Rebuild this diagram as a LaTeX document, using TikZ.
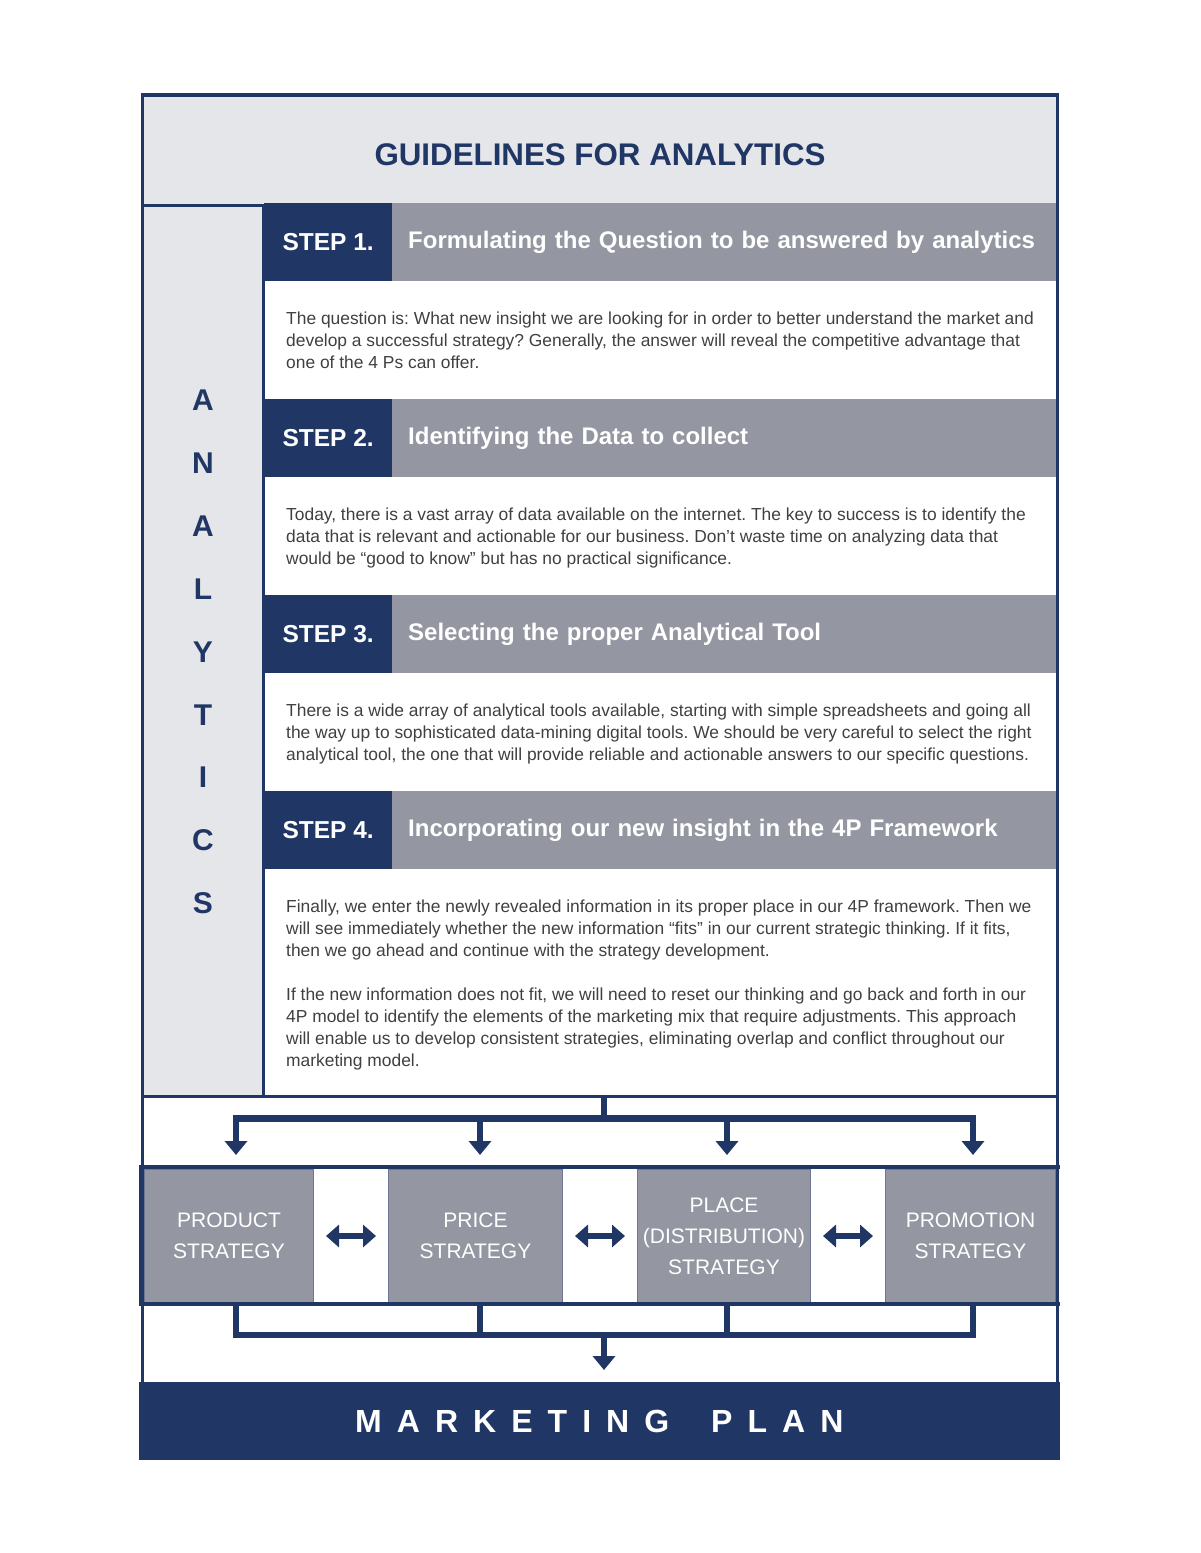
\documentclass[tikz,border=0pt]{standalone}
\usepackage{fontspec}
\setmainfont{Liberation Sans}
\usetikzlibrary{arrows.meta}
\definecolor{navy}{RGB}{32,54,100}
\definecolor{hdrgray}{RGB}{148,151,161}
\definecolor{lightbg}{RGB}{229,230,234}
\definecolor{bodygray}{RGB}{64,64,64}
\definecolor{boxedge}{RGB}{110,118,145}
\frenchspacing
\tikzset{
  framel/.style={draw=navy, line width=3.5pt},
  stepnum/.style={fill=navy, text=white, font=\fontsize{24.5}{28}\selectfont\bfseries,
    minimum width=128pt, minimum height=78pt, inner sep=0pt, anchor=north west},
  steptitle/.style={fill=hdrgray, text=white, font=\fontsize{24}{28}\selectfont\bfseries,
    minimum width=664pt, minimum height=78pt, text width=632pt, inner xsep=16pt,
    inner ysep=0pt, align=left, anchor=north west},
  bodytxt/.style={text=bodygray, font=\fontsize{17.4}{22}\selectfont\frenchspacing, align=left,
    inner sep=0pt, anchor=north west},
  vletter/.style={text=navy, font=\fontsize{30}{30}\selectfont\bfseries, inner sep=0pt},
  stratbox/.style={fill=hdrgray, draw=boxedge, line width=1pt, text=white,
    font=\fontsize{21}{31}\selectfont, align=center, inner sep=0pt,
    minimum height=133pt, anchor=north west},
  conn/.style={draw=navy, line width=6.5pt},
  tipdown/.style={-{Triangle[width=22pt,length=14pt]}},
  dbl/.style={draw=navy, line width=6pt,
    {Triangle[width=22pt,length=13pt]}-{Triangle[width=22pt,length=13pt]},
    shorten <=12pt, shorten >=12pt},
}
\begin{document}
\begin{tikzpicture}[x=1pt,y=-1pt]
\useasboundingbox (0,0) rectangle (1200,1553);
\fill[white] (0,0) rectangle (1200,1553);
% header band and left column
\fill[lightbg] (142,95) rectangle (1058,205);
\fill[lightbg] (142,205) rectangle (264,1096);
\node[text=navy, font=\fontsize{31.3}{31}\selectfont\bfseries] (title) at (600,155) {GUIDELINES FOR ANALYTICS};
% vertical word
\node[vletter] (la1) at (203,400) {A};
\node[vletter] (la2) at (203,463) {N};
\node[vletter] (la3) at (203,526) {A};
\node[vletter] (la4) at (203,589) {L};
\node[vletter] (la5) at (203,652) {Y};
\node[vletter] (la6) at (203,715) {T};
\node[vletter] (la7) at (203,777) {I};
\node[vletter] (la8) at (203,840) {C};
\node[vletter] (la9) at (203,903) {S};
% steps
\node[stepnum] (s1n) at (264,203) {STEP 1.};
\node[steptitle] (s1t) at (392,203) {Formulating the Question to be answered by analytics};
\node[bodytxt] (s1b) at (286,312) {The question is: What new insight we are looking for in order to better understand the market and\\
develop a successful strategy? Generally, the answer will reveal the competitive advantage that\\
one of the 4 Ps can offer.};
\node[stepnum] (s2n) at (264,399) {STEP 2.};
\node[steptitle] (s2t) at (392,399) {Identifying the Data to collect};
\node[bodytxt] (s2b) at (286,508) {Today, there is a vast array of data available on the internet. The key to success is to identify the\\
data that is relevant and actionable for our business. Don’t waste time on analyzing data that\\
would be “good to know” but has no practical significance.};
\node[stepnum] (s3n) at (264,595) {STEP 3.};
\node[steptitle] (s3t) at (392,595) {Selecting the proper Analytical Tool};
\node[bodytxt] (s3b) at (286,704) {There is a wide array of analytical tools available, starting with simple spreadsheets and going all\\
the way up to sophisticated data-mining digital tools. We should be very careful to select the right\\
analytical tool, the one that will provide reliable and actionable answers to our specific questions.};
\node[stepnum] (s4n) at (264,791) {STEP 4.};
\node[steptitle] (s4t) at (392,791) {Incorporating our new insight in the 4P Framework};
\node[bodytxt] (s4b) at (286,900) {Finally, we enter the newly revealed information in its proper place in our 4P framework. Then we\\
will see immediately whether the new information “fits” in our current strategic thinking. If it fits,\\
then we go ahead and continue with the strategy development.\\[21.5pt]
If the new information does not fit, we will need to reset our thinking and go back and forth in our\\
4P model to identify the elements of the marketing mix that require adjustments. This approach\\
will enable us to develop consistent strategies, eliminating overlap and conflict throughout our\\
marketing model.};
% strategy boxes
\node[stratbox, minimum width=169pt] (product) at (144,1169) {PRODUCT\\STRATEGY};
\node[stratbox, minimum width=174pt] (price) at (388,1169) {PRICE\\STRATEGY};
\node[stratbox, minimum width=173pt] (place) at (637,1169) {PLACE\\(DISTRIBUTION)\\STRATEGY};
\node[stratbox, minimum width=170pt] (promo) at (885,1169) {PROMOTION\\STRATEGY};
\draw[dbl] (product) -- (price);
\draw[dbl] (price) -- (place);
\draw[dbl] (place) -- (promo);
% marketing plan
\node[fill=navy, minimum width=921pt, minimum height=78pt, inner sep=0pt] (mplan) at (599.5,1421) {};
\node[anchor=west, inner sep=0pt, text=white,
  font=\fontsize{32}{32}\selectfont\bfseries\addfontfeatures{LetterSpace=47}] (mptext) at (355,1421)
  {MARKETING\hspace{18pt} PLAN};
% frame lines
\draw[framel] (141,95) -- (1059,95);
\draw[framel] (142.5,93.5) -- (142.5,1383);
\draw[framel] (1057.5,93.5) -- (1057.5,1383);
\draw[draw=navy, line width=3pt] (142,205) -- (265,205);
\draw[draw=navy, line width=3pt] (263.5,205) -- (263.5,1096);
\draw[draw=navy, line width=3pt] (141,1096.5) -- (1059,1096.5);
\draw[draw=navy, line width=4pt] (139,1167) -- (1059.5,1167);
\draw[draw=navy, line width=4pt] (139,1304) -- (1059.5,1304);
\fill[navy] (139,1165) rectangle (144,1306);
% top connector
\coordinate (hubtop) at (604,1096);
\coordinate (hubbar) at (604,1118.5);
\coordinate (b1) at (236,1118.5);
\coordinate (b2) at (480,1118.5);
\coordinate (b3) at (727,1118.5);
\coordinate (b4) at (973,1118.5);
\coordinate (t1) at (236,1155);
\coordinate (t2) at (480,1155);
\coordinate (t3) at (727,1155);
\coordinate (t4) at (973,1155);
\draw[conn] (hubtop) -- (hubbar);
\draw[conn, line cap=rect] (b1) -- (b4);
\draw[conn, tipdown] (b1) -- (t1);
\draw[conn, tipdown] (b2) -- (t2);
\draw[conn, tipdown] (b3) -- (t3);
\draw[conn, tipdown] (b4) -- (t4);
% bottom connector
\coordinate (c1) at (236,1335);
\coordinate (c2) at (480,1335);
\coordinate (c3) at (727,1335);
\coordinate (c4) at (973,1335);
\coordinate (hubbot) at (604,1335);
\coordinate (mtip) at (604,1370);
\draw[conn] (product.south -| c1) -- (c1);
\draw[conn] (price.south -| c2) -- (c2);
\draw[conn] (place.south -| c3) -- (c3);
\draw[conn] (promo.south -| c4) -- (c4);
\draw[conn, line cap=rect] (c1) -- (c4);
\draw[conn, tipdown] (hubbot) -- (mtip);
\end{tikzpicture}
\end{document}
